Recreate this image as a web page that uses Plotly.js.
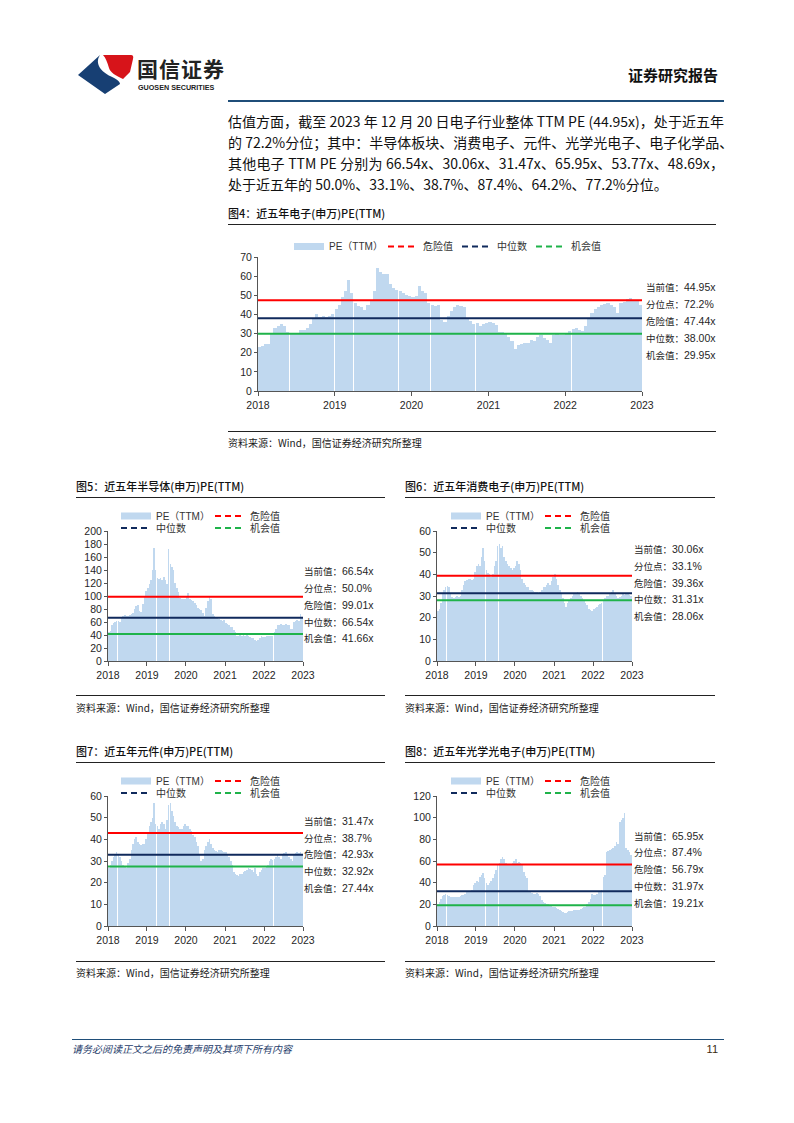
<!DOCTYPE html>
<html>
<head>
<meta charset="utf-8">
<script src="https://cdn.plot.ly/plotly-3.0.1.min.js"></script>
<style>
  html,body{margin:0;padding:0;background:#fff;}
  body{width:794px;height:1123px;position:relative;overflow:hidden;font-family:"Noto Sans CJK SC","Liberation Sans",sans-serif;color:#111;}
  .t{position:absolute;white-space:nowrap;}
  .rule{position:absolute;height:0;}
  .pline{position:absolute;left:228px;width:496px;font-size:14px;line-height:20px;height:20px;text-align:justify;text-align-last:justify;white-space:nowrap;color:#111;}
  .pline.last{text-align-last:left;}
  .ftitle{position:absolute;font-size:11px;line-height:14px;color:#111;white-space:nowrap;font-weight:500;}
  .src{position:absolute;font-size:10px;line-height:14px;color:#1a1a1a;white-space:nowrap;}
</style>
</head>
<body>

<!-- header -->
<svg class="t" style="left:76px;top:52px" width="62" height="46" viewBox="0 0 62 46">
  <path d="M2,23 L24,3 C18,12 26,20 34,24 C40,27 44,29 44,32 L29,42 Z" fill="#173f73"/>
  <path d="M27,3 L55,3 Q58,3 57,7 L54,20 L47,27 C40,24 34,20 33,16 C31,10 30,6 27,3 Z" fill="#d7141a"/>
</svg>
<div class="t" style="left:137px;top:56px;font-size:21px;line-height:24px;font-weight:700;color:#222;letter-spacing:1px;">国信证券</div>
<div class="t" style="left:138px;top:83px;font-size:7.2px;line-height:9px;font-weight:700;color:#222;font-family:'Liberation Sans',sans-serif;">GUOSEN SECURITIES</div>
<div class="t" style="right:76px;top:66px;font-size:15px;line-height:18px;font-weight:700;color:#111;">证券研究报告</div>
<div class="rule" style="left:228px;top:100px;width:496px;border-top:2px solid #1f4e79;"></div>

<!-- paragraph -->
<div class="pline" style="top:111px;">估值方面，截至 2023 年 12 月 20 日电子行业整体 TTM PE (44.95x)，处于近五年</div>
<div class="pline" style="top:132px;">的 72.2%分位；其中：半导体板块、消费电子、元件、光学光电子、电子化学品、</div>
<div class="pline" style="top:153px;">其他电子 TTM PE 分别为 66.54x、30.06x、31.47x、65.95x、53.77x、48.69x，</div>
<div class="pline last" style="top:174px;">处于近五年的 50.0%、33.1%、38.7%、87.4%、64.2%、77.2%分位。</div>

<!-- figure 4 -->
<div class="ftitle" style="left:228px;top:206px;">图4：近五年电子(申万)PE(TTM)</div>
<div class="rule" style="left:228px;top:224px;width:488px;border-top:1px solid #222;"></div>
<div class="rule" style="left:228px;top:431px;width:488px;border-top:1px solid #222;"></div>
<div class="src" style="left:228px;top:436px;">资料来源：Wind，国信证券经济研究所整理</div>

<!-- figure 5/6 -->
<div class="ftitle" style="left:76px;top:479px;">图5：近五年半导体(申万)PE(TTM)</div>
<div class="rule" style="left:76px;top:497px;width:309px;border-top:1px solid #222;"></div>
<div class="rule" style="left:76px;top:695px;width:309px;border-top:1px solid #222;"></div>
<div class="src" style="left:76px;top:701px;">资料来源：Wind，国信证券经济研究所整理</div>

<div class="ftitle" style="left:405px;top:479px;">图6：近五年消费电子(申万)PE(TTM)</div>
<div class="rule" style="left:405px;top:497px;width:310px;border-top:1px solid #222;"></div>
<div class="rule" style="left:405px;top:695px;width:310px;border-top:1px solid #222;"></div>
<div class="src" style="left:405px;top:701px;">资料来源：Wind，国信证券经济研究所整理</div>

<!-- figure 7/8 -->
<div class="ftitle" style="left:76px;top:744px;">图7：近五年元件(申万)PE(TTM)</div>
<div class="rule" style="left:76px;top:762px;width:309px;border-top:1px solid #222;"></div>
<div class="rule" style="left:76px;top:961px;width:309px;border-top:1px solid #222;"></div>
<div class="src" style="left:76px;top:966px;">资料来源：Wind，国信证券经济研究所整理</div>

<div class="ftitle" style="left:405px;top:744px;">图8：近五年光学光电子(申万)PE(TTM)</div>
<div class="rule" style="left:405px;top:762px;width:310px;border-top:1px solid #222;"></div>
<div class="rule" style="left:405px;top:961px;width:310px;border-top:1px solid #222;"></div>
<div class="src" style="left:405px;top:966px;">资料来源：Wind，国信证券经济研究所整理</div>

<!-- footer -->
<div class="rule" style="left:72px;top:1039px;width:652px;border-top:1.5px solid #1f4e79;"></div>
<div class="t" style="left:72px;top:1042px;font-size:10px;line-height:14px;font-style:italic;color:#1f3d6b;">请务必阅读正文之后的免责声明及其项下所有内容</div>
<div class="t" style="right:76px;top:1042px;font-size:11px;line-height:14px;color:#3a2a10;font-family:'Liberation Sans',sans-serif;">11</div>

<script>
// ---------------- DATA ----------------
const yearTicks = ['2018', '2019', '2020', '2021', '2022', '2023'];
const legendNames = ['PE（TTM）', '危险值', '中位数', '机会值'];
const statLabels = ['当前值', '分位点', '危险值', '中位数', '机会值'];

// semi-monthly PE(TTM) readings, Jan 2018 - Dec 2022 axis span
const pe_electronics = [
  23, 23.5, 24.5, 24.5, 30, 33, 34, 35, 34, 31, 30, 30, 30.5, 32, 32, 33, 35, 38, 40, 38.5, 39, 38.5, 39, 40,
  43, 45, 49, 52, 58, 51, 46, 44.5, 44, 42.5, 45, 47, 52, 64, 62, 61, 61, 56, 54, 53, 52.5, 51, 50, 49.5,
  49, 49.5, 55, 52, 51, 46, 45, 44.5, 45, 37, 36, 39, 42, 44, 45, 44.5, 44, 38, 36.5, 35, 35.5, 34, 35, 35.5,
  36, 35.5, 34.5, 31, 31, 30, 28, 26, 22, 24, 24.5, 25, 25, 26.5, 26, 28, 29, 27.5, 26.5, 25, 29, 30.5, 29.5, 29,
  30.5, 31.5, 32.5, 33, 32, 31.5, 34, 38, 41, 43, 44, 45, 45.5, 46, 45, 44, 41, 46, 46.5, 48, 48.5, 47.5, 47, 45
];
const pe_semiconductor = [
  45, 46, 55, 58, 60, 61, 62, 60, 66, 70, 71, 70, 69, 71, 72, 74, 80, 84, 86, 77, 76, 88, 100, 108,
  112, 118, 125, 140, 174, 140, 128, 126, 128, 124, 130, 125, 118, 172, 150, 145, 140, 120, 112, 106, 97, 95, 96, 95,
  100, 105, 95, 94, 92, 90, 86, 82, 80, 78, 74, 70, 82, 92, 100, 95, 72, 70, 68, 66, 65, 63, 62, 63,
  58, 57, 55, 53, 52, 48, 44, 39, 38, 40, 39, 40, 39, 40, 38, 37, 36, 35, 33, 31, 33, 36, 38, 37,
  37, 38, 39, 38, 38, 39, 45, 50, 55, 56, 57, 56, 55, 57, 56, 55, 50, 49, 60, 61, 63, 62, 72, 68
];
const pe_consumer = [
  23, 24, 27, 31, 33, 34, 34.5, 34, 31, 29.5, 29, 29.5, 30, 29.5, 30, 33, 35, 37, 37.5, 38, 38, 37.5, 38, 41,
  44, 45, 44, 48, 52, 46, 42, 40.5, 40, 39, 40, 44, 46, 53, 54, 52, 53, 48, 46, 45, 44, 43, 42, 43,
  44, 46, 45, 42, 38, 36, 35, 34, 34, 33, 33, 32.5, 32, 32, 31, 32, 33, 34, 34, 35, 36, 35, 37, 39,
  40, 38, 35, 33, 31, 29, 27, 25, 27, 28, 29, 30, 31, 31.5, 32, 31, 30, 29, 28, 27, 26, 24, 23.5, 23,
  24, 24.5, 25, 26, 26.5, 27, 28, 29, 30, 30, 31, 32, 33, 31, 30, 29, 29.5, 30, 31, 30.5, 31, 31, 30.5, 30
];
const pe_component = [
  27, 28, 30, 32, 33, 34, 33, 32, 30, 28, 27.5, 27, 29, 31, 35, 38, 40, 41, 39, 38, 37.5, 38, 38, 40,
  43, 46, 48, 50, 57, 47, 46, 45, 47, 48, 47, 45, 49, 56, 57, 53, 51, 48, 46, 45.5, 45, 45, 46, 47,
  46, 46, 45, 44, 42, 41, 39, 37, 33, 30, 31, 35, 37, 39, 40, 38, 36, 35, 34.5, 34, 35, 35, 34.5, 34,
  34, 33, 32, 30, 28, 25, 24, 23.5, 23, 24, 24, 25, 25.5, 26, 27, 26.5, 26, 25, 27, 24, 23, 25, 26, 27,
  27, 27.5, 28, 30, 31, 30.5, 31, 32, 33, 32, 31, 33, 33.5, 34, 33, 32, 31, 30, 33, 33.5, 34, 33.5, 34, 33
];
const pe_optoelectronics = [
  20, 22, 25, 28, 29, 30, 29, 28, 27, 26.5, 26.5, 27, 27, 27, 28, 29, 29, 30, 31, 31, 32, 33, 38, 40,
  42, 41, 45, 47, 49, 44, 40, 38, 40, 42, 44, 48, 52, 56, 58, 62, 64, 62, 58, 57, 56, 57, 58, 60,
  62, 58, 59, 58, 57, 50, 46, 44, 31, 31, 30.5, 30, 30, 30.5, 30, 28, 24, 22, 21, 20, 20, 19, 18.5, 18,
  18, 17, 16, 15, 14, 13, 12, 12, 13, 14, 14, 14, 14.5, 15, 15, 15, 16, 17, 18, 18, 20, 22, 25, 30,
  29, 29, 30, 31, 32, 33, 45, 47, 68, 69, 70, 71, 72, 74, 78, 76, 96, 98, 100, 104, 72, 70, 68, 66
];

// summary boxes (current value, percentile, danger, median, opportunity)
const stats_electronics = ['44.95x', '72.2%', '47.44x', '38.00x', '29.95x'];
const stats_semiconductor = ['66.54x', '50.0%', '99.01x', '66.54x', '41.66x'];
const stats_consumer = ['30.06x', '33.1%', '39.36x', '31.31x', '28.06x'];
const stats_component = ['31.47x', '38.7%', '42.93x', '32.92x', '27.44x'];
const stats_optoelectronics = ['65.95x', '87.4%', '56.79x', '31.97x', '19.21x'];

// reference lines: danger, median, opportunity
const lines_electronics = [47.44, 38.00, 29.95];
const lines_semiconductor = [99.01, 66.54, 41.66];
const lines_consumer = [39.36, 31.31, 28.06];
const lines_component = [42.93, 32.92, 27.44];
const lines_optoelectronics = [56.79, 31.97, 19.21];

// ---------------- CHART BUILDER ----------------
const periods = [];
for (let y = 2018; y <= 2022; y++) {
  for (let m = 1; m <= 12; m++) {
    for (const d of ['08', '23']) periods.push(y + '-' + String(m).padStart(2, '0') + '-' + d);
  }
}

const BAR_COLOR = '#c0d8ef';
const LINE_COLORS = ['#ff0000', '#102a5c', '#1fb34a'];
const DAY = 86400000;

function buildChart(cfg) {
  const div = document.createElement('div');
  div.style.cssText = 'position:absolute;left:' + cfg.left + 'px;top:' + cfg.top + 'px;width:' + cfg.width + 'px;height:' + cfg.height + 'px;';
  document.body.appendChild(div);

  const pL = cfg.pL - cfg.left, pR = cfg.pR - cfg.left;
  const pT = cfg.pT - cfg.top, pB = cfg.pB - cfg.top;
  const plotW = pR - pL, plotH = pB - pT;
  const px2x = x => (x - cfg.left - pL) / plotW;
  const px2y = y => (pB - (y - cfg.top)) / plotH;
  const cx = x => (x - cfg.left) / cfg.width;
  const cy = y => 1 - (y - cfg.top) / cfg.height;

  const twoRows = cfg.legendRows.length === 2;
  const traces = [{
    type: 'bar', x: periods, y: cfg.values, width: 15.3 * DAY,
    marker: {color: BAR_COLOR, line: {width: 0}}, showlegend: false, hoverinfo: 'skip'
  }];
  legendNames.forEach((n, i) => {
    traces.push({
      type: 'scatter', mode: 'lines', x: [null], y: [null], name: n, showlegend: true,
      legend: (twoRows && i >= 2) ? 'legend2' : 'legend',
      legendwidth: (i === 0 || twoRows) ? 49 : 29,
      line: i === 0 ? {color: BAR_COLOR, width: 7} : {color: LINE_COLORS[i - 1], width: 2, dash: '6px,4px'},
      hoverinfo: 'skip'
    });
  });

  const legendFont = {family: 'Liberation Sans, Noto Sans CJK SC, sans-serif', size: 10, color: '#333'};
  const mkLegend = rowY => ({
    orientation: 'h', xref: 'container', yref: 'container',
    x: cx(cfg.legendX - 5), xanchor: 'left', y: cy(rowY), yanchor: 'middle',
    bgcolor: 'rgba(0,0,0,0)', borderwidth: 0, font: legendFont, itemwidth: 30, traceorder: 'normal',
    itemclick: false, itemdoubleclick: false
  });

  const shapes = cfg.lines.map((v, i) => ({
    type: 'line', xref: 'paper', x0: 0, x1: 1, yref: 'y', y0: v, y1: v,
    line: {color: LINE_COLORS[i], width: 2}, layer: 'above'
  }));

  const annotations = statLabels.map((lab, i) => ({
    xref: 'paper', yref: 'paper', x: px2x(cfg.annX), y: px2y(cfg.annY[i]),
    xanchor: 'left', yanchor: 'middle', showarrow: false,
    text: '<span style="font-family:Noto Sans CJK SC;font-size:9.5px">' + lab + '：</span>' + cfg.stats[i],
    font: {family: 'Liberation Sans, sans-serif', size: 10.5, color: '#262626'}
  }));

  const layout = {
    width: cfg.width, height: cfg.height,
    margin: {l: pL, r: cfg.width - pR, t: pT, b: cfg.height - pB, pad: 0, autoexpand: false},
    paper_bgcolor: 'rgba(0,0,0,0)', plot_bgcolor: 'rgba(0,0,0,0)',
    font: {family: 'Liberation Sans, Arial, sans-serif', size: 10.5, color: '#262626'},
    bargap: 0,
    xaxis: {
      type: 'date', range: ['2018-01-01', '2023-01-01'],
      tickmode: 'array', tickvals: yearTicks.map(y => y + '-01-01'), ticktext: yearTicks,
      ticks: 'outside', ticklen: 4, tickcolor: '#555', showline: true, linecolor: '#555', linewidth: 1,
      showgrid: false, zeroline: false, fixedrange: true
    },
    yaxis: {
      range: [0, cfg.yMax], dtick: cfg.dtick, tick0: 0,
      ticks: 'outside', ticklen: 3, tickcolor: '#555', showline: true, linecolor: '#555', linewidth: 1,
      showgrid: false, zeroline: false, fixedrange: true
    },
    legend: mkLegend(cfg.legendRows[0]),
    shapes: shapes,
    annotations: annotations
  };
  if (twoRows) layout.legend2 = mkLegend(cfg.legendRows[1]);

  Plotly.newPlot(div, traces, layout, {staticPlot: true, displayModeBar: false});
}

buildChart({
  left: 228, top: 232, width: 510, height: 190,
  pL: 258, pR: 642, pT: 257, pB: 391,
  values: pe_electronics, lines: lines_electronics, stats: stats_electronics,
  yMax: 70, dtick: 10,
  legendRows: [246.5], legendX: 294,
  annX: 644, annY: [287, 304, 321, 338, 355]
});
buildChart({
  left: 76, top: 505, width: 310, height: 180,
  pL: 108, pR: 303, pT: 530.5, pB: 661,
  values: pe_semiconductor, lines: lines_semiconductor, stats: stats_semiconductor,
  yMax: 200, dtick: 20,
  legendRows: [516, 528], legendX: 121,
  annX: 302, annY: [571, 588, 605, 622, 638]
});
buildChart({
  left: 405, top: 505, width: 320, height: 180,
  pL: 437, pR: 632, pT: 530.5, pB: 661,
  values: pe_consumer, lines: lines_consumer, stats: stats_consumer,
  yMax: 60, dtick: 10,
  legendRows: [516, 528], legendX: 451,
  annX: 632, annY: [549, 566, 583, 599, 616]
});
buildChart({
  left: 76, top: 770, width: 310, height: 180,
  pL: 108, pR: 303, pT: 795.5, pB: 926,
  values: pe_component, lines: lines_component, stats: stats_component,
  yMax: 60, dtick: 10,
  legendRows: [781, 793], legendX: 121,
  annX: 302, annY: [821, 838, 854, 871, 888]
});
buildChart({
  left: 405, top: 770, width: 320, height: 180,
  pL: 437, pR: 632, pT: 795.5, pB: 926,
  values: pe_optoelectronics, lines: lines_optoelectronics, stats: stats_optoelectronics,
  yMax: 120, dtick: 20,
  legendRows: [781, 793], legendX: 451,
  annX: 632, annY: [836, 852, 869, 886, 903]
});
</script>
</body>
</html>
